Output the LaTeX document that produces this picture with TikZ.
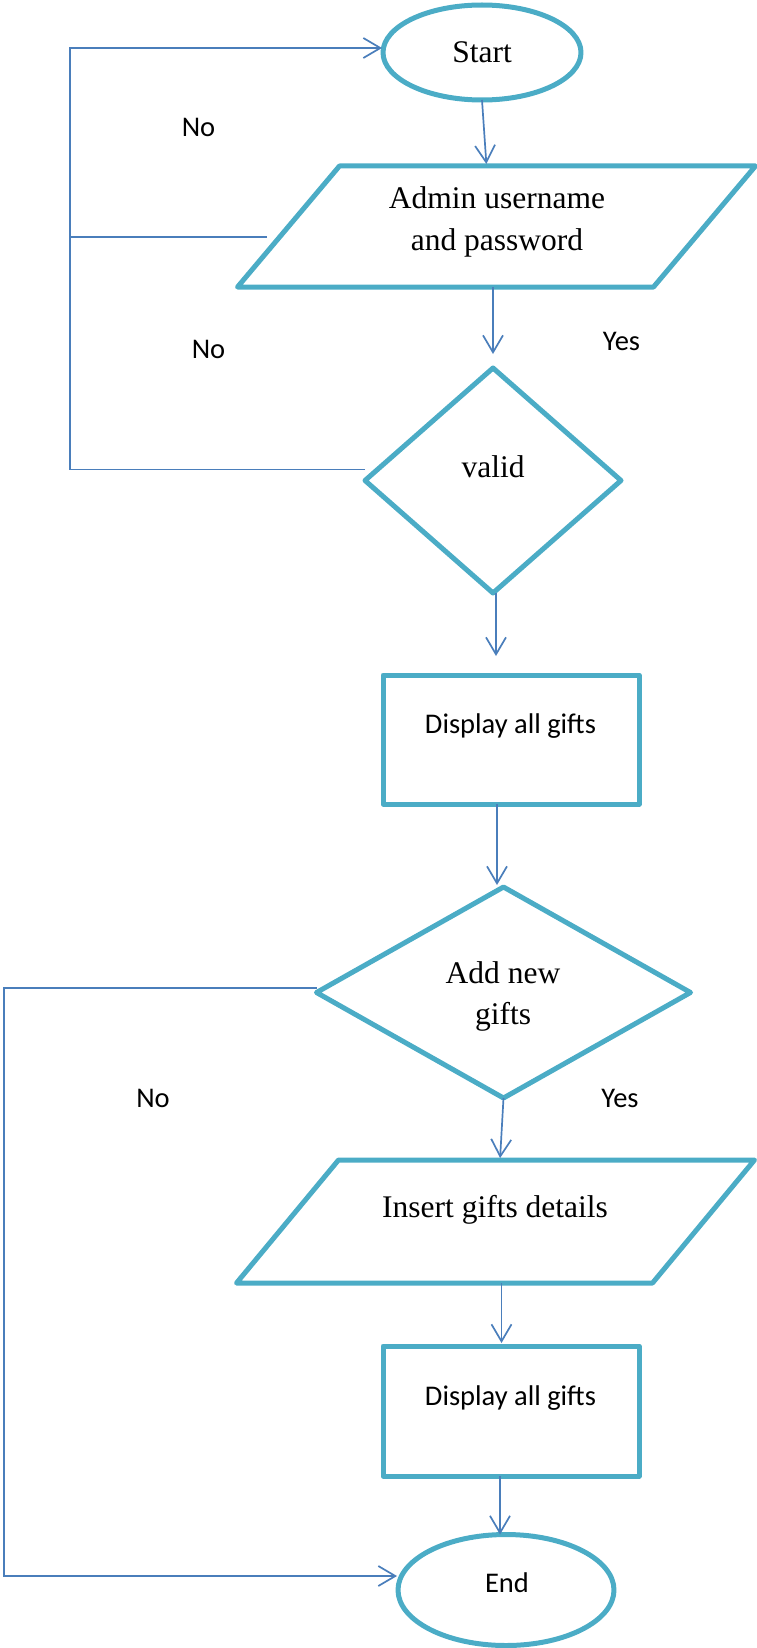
\documentclass[tikz,border=0pt]{standalone}
\usepackage{fontspec}
\setmainfont{Liberation Serif}
\newfontfamily\calibrifont{Carlito}
\usetikzlibrary{shapes.geometric,arrows.meta}
\definecolor{shapec}{HTML}{4BACC6}
\definecolor{linec}{HTML}{4A7EBB}
\tikzset{
  shp/.style={draw=shapec, line width=5pt, inner sep=0pt, outer sep=0pt, line join=round},
  ghost/.style={draw=none, inner sep=0pt, outer sep=0pt},
  conn/.style={draw=linec, line width=1.7pt},
  arr/.style={conn, -{Straight Barb[length=17pt,width=20pt]}},
  tnr/.style={font=\fontsize{31.5}{38}\selectfont, inner sep=0pt, anchor=base},
  cal/.style={font=\calibrifont\fontsize{28.5}{34}\selectfont, inner sep=0pt, anchor=base},
}
\begin{document}
\begin{tikzpicture}[x=1pt,y=-1pt]
\useasboundingbox (0,0) rectangle (756,1648);
% shapes
\node[shp, ellipse, minimum width=198pt, minimum height=95pt] (start) at (482,52.5) {};
\node[ghost, minimum width=416pt, minimum height=121pt] (p1) at (496.5,226.5) {};
\draw[shp] ([xshift=51pt]p1.north west) -- ([xshift=51pt]p1.north east) -- ([xshift=-51pt]p1.south east) -- ([xshift=-51pt]p1.south west) -- cycle;
\node[shp, diamond, minimum width=256pt, minimum height=225pt] (d1) at (493,480.5) {};
\node[shp, rectangle, minimum width=256pt, minimum height=129pt] (box1) at (511,739.5) {};
\node[shp, diamond, minimum width=374pt, minimum height=211pt] (d2) at (503.5,992.5) {};
\node[ghost, minimum width=416pt, minimum height=123pt] (p2) at (495.5,1221.5) {};
\draw[shp] ([xshift=51pt]p2.north west) -- ([xshift=51pt]p2.north east) -- ([xshift=-51pt]p2.south east) -- ([xshift=-51pt]p2.south west) -- cycle;
\node[shp, rectangle, minimum width=256pt, minimum height=130pt] (box2) at (511,1411) {};
\node[shp, ellipse, minimum width=216pt, minimum height=111pt] (end) at (506,1590) {};
% texts
\node[tnr] (tstart) at (482,63) {Start};
\node[tnr] (tp1a) at (497,208) {Admin username};
\node[tnr] (tp1b) at (497,250) {and password};
\node[tnr] (tvalid) at (493,477) {valid};
\node[cal] (tbox1) at (510.5,733) {Display all gifts};
\node[tnr] (td2a) at (503,983) {Add new};
\node[tnr] (td2b) at (503,1024) {gifts};
\node[tnr] (tp2) at (495,1217) {Insert gifts details};
\node[cal] (tbox2) at (510.5,1405) {Display all gifts};
\node[cal] (tend) at (507,1592) {End};
\node[cal] (no1) at (198.5,137) {No};
\node[cal] (no2) at (208.5,358) {No};
\node[cal] (yes1) at (621.5,350) {Yes};
\node[cal] (no3) at (153,1107) {No};
\node[cal] (yes2) at (620,1107) {Yes};
% main flow
\draw[arr, shorten >=2pt] (start.south) -- ([xshift=-10pt]p1.north);
\draw[arr, shorten >=14pt] ([xshift=-3.5pt]p1.south) -- (d1.north);
\draw[arr, shorten >=19pt] ([xshift=3pt]d1.south) -- ([xshift=-15pt]box1.north);
\draw[arr, shorten >=2pt] ([xshift=-14pt]box1.south) -- ([xshift=-14pt]box1.south |- d2.north);
\draw[arr, shorten >=2pt] (d2.south) -- ([xshift=4.5pt]p2.north);
\draw[arr, shorten >=3pt] ([xshift=6pt]p2.south) -- ([xshift=-9.5pt]box2.north);
\draw[arr] ([xshift=-11pt]box2.south) -- ([xshift=-6pt]end.north);
% feedback lines
\coordinate (nA) at ([yshift=11pt]d1.west);
\coordinate (ltop) at (70,48);
\draw[arr, shorten >=1pt] (nA) -| (ltop) -- (ltop -| start.west);
\coordinate (nB) at (267,237);
\draw[conn] (nB) -- (nB -| ltop);
\coordinate (nC) at ([yshift=4.5pt]d2.west);
\coordinate (lbot) at (4,1576);
\draw[arr, shorten >=1pt] (nC) -| (lbot) -- (lbot -| end.west);
\end{tikzpicture}
\end{document}
